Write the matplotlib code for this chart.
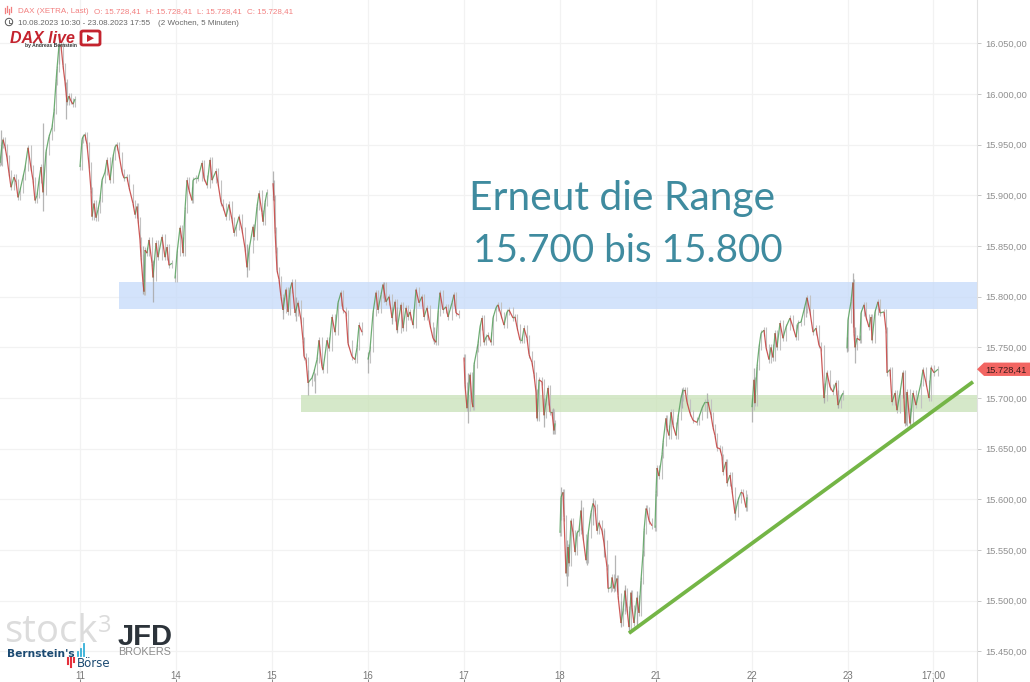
import matplotlib
matplotlib.use("Agg")
import matplotlib.pyplot as plt
from matplotlib.collections import LineCollection
from matplotlib.patches import Polygon, Rectangle, FancyBboxPatch
from matplotlib.lines import Line2D

# --- time axis: one session = 96 chart units ---
x_10 = [0,2,3,5,7,9,11,14,16,18,20,23,25,28,31,33,35,37,39,41,43,46,49,52,54,56,57,59,61,63,65,67,69,71,73,75]
p_10 = [15932,15950,15955,15948,15937,15922,15908,15918,15913,15898,15905,15918,15927,15947,15927,15915,15895,15900,15915,15928,15903,15943,15958,15967,15983,16012,16025,16048,16048,16028,16012,15992,15998,15993,15990,15995]
x_11 = [80,82,83,85,87,89,91,92,94,96,98,100,102,105,107,110,113,115,117,119,122,124,127,129,133,135,137,138,140,141,143,144,145,147,149,152,153,156,158,162,165,167,169,172]
p_11 = [15928,15955,15958,15960,15950,15930,15905,15879,15892,15878,15886,15896,15915,15923,15935,15915,15938,15948,15950,15940,15923,15917,15918,15908,15892,15881,15889,15876,15856,15839,15814,15805,15846,15843,15856,15833,15819,15853,15839,15859,15839,15849,15831,15833]
x_14 = [175,177,180,182,183,185,187,189,192,193,196,198,202,204,207,210,212,216,218,221,223,226,229,232,234,236,239,242,245,247,249,253,254,257,259,262,263,265,267]
p_14 = [15818,15843,15868,15856,15843,15886,15915,15905,15895,15915,15917,15917,15932,15917,15910,15935,15915,15924,15912,15893,15889,15879,15891,15876,15863,15869,15879,15866,15848,15829,15846,15869,15859,15889,15902,15883,15874,15893,15903]
x_15 = [273,274,275,276,277,279,281,283,286,288,290,292,295,298,301,303,304,306,308,312,314,317,319,322,323,327,329,332,335,338,341,343,346,348,352,355,357,359,362]
p_15 = [15912,15897,15866,15846,15826,15817,15800,15787,15807,15785,15807,15814,15784,15794,15777,15757,15741,15738,15715,15720,15726,15738,15757,15731,15728,15757,15749,15780,15765,15794,15804,15787,15784,15754,15741,15738,15750,15772,15765]
x_16 = [368,370,373,376,378,381,383,386,389,392,395,397,401,403,406,408,410,413,416,419,422,424,427,430,433,436,438,440,443,446,448,452,454,456,459]
p_16 = [15738,15748,15784,15804,15787,15802,15812,15795,15800,15779,15795,15767,15792,15769,15789,15780,15785,15772,15807,15794,15800,15780,15789,15772,15759,15755,15784,15804,15787,15790,15780,15794,15802,15784,15782]
x_17 = [464,465,467,470,472,473,474,477,478,480,482,484,486,488,491,493,496,498,501,504,507,509,513,515,517,520,522,524,527,529,532,534,536,537,539,542,544,546,548,550,552,554,555]
p_17 = [15740,15713,15690,15723,15696,15691,15733,15748,15754,15770,15779,15755,15760,15762,15755,15779,15789,15792,15782,15772,15785,15787,15779,15780,15770,15757,15757,15769,15759,15743,15735,15723,15706,15680,15718,15716,15683,15696,15710,15686,15686,15668,15675]
x_18 = [560,561,563,564,566,568,569,571,573,575,577,579,581,583,586,588,591,593,595,597,599,602,604,607,608,611,612,614,617,618,621,623,625,627,629,631,632,634,637,639,641,643,644,646,647,649,652]
p_18 = [15567,15602,15607,15582,15527,15553,15537,15579,15567,15548,15567,15569,15589,15563,15540,15565,15587,15596,15592,15569,15577,15569,15557,15533,15512,15513,15523,15512,15522,15505,15478,15490,15510,15492,15474,15508,15493,15478,15503,15488,15520,15547,15569,15591,15589,15579,15574]
x_21 = [655,656,657,659,662,663,666,667,669,671,673,676,678,681,683,685,687,690,693,697,699,702,705,708,711,713,715,717,720,722,723,726,727,730,732,735,738,741,743,746,747]
p_21 = [15572,15606,15631,15623,15644,15656,15680,15670,15663,15686,15673,15663,15681,15700,15708,15708,15696,15685,15678,15676,15681,15690,15696,15696,15683,15671,15663,15651,15650,15642,15627,15637,15616,15624,15609,15586,15599,15607,15606,15592,15602]
x_22 = [752,754,755,757,759,761,764,766,769,771,773,775,777,780,783,786,790,793,796,798,801,804,807,810,813,816,819,821,824,827,830,833,836,838,841,843]
p_22 = [15691,15718,15695,15731,15750,15764,15767,15750,15738,15750,15740,15764,15750,15774,15759,15770,15779,15770,15760,15774,15775,15787,15799,15785,15765,15769,15752,15749,15700,15725,15711,15706,15715,15693,15701,15705]
x_23 = [847,848,851,853,854,855,857,860,861,864,866,869,871,872,875,878,880,884,886,887,890,892,895,897,900,903,905,907,910,913,916,921,923,926,929,931,934,938]
p_23 = [15749,15777,15795,15814,15764,15750,15759,15757,15784,15792,15780,15770,15780,15757,15785,15795,15784,15785,15767,15725,15728,15696,15705,15688,15705,15725,15675,15706,15675,15705,15693,15715,15728,15715,15700,15730,15725,15728.41]
sessions_x = [x_10, x_11, x_14, x_15, x_16, x_17, x_18, x_21, x_22, x_23]
sessions_p = [p_10, p_11, p_14, p_15, p_16, p_17, p_18, p_21, p_22, p_23]

# notable wicks
wick_x  = [1,43,59,66,143,153,247,273,283,296,308,315,368,392,397,384,434,468,537,544,553,561,567,581,587,593,604,615,621,625,629,637,682,707,735,752,754,806,824,838,847,853,855,903,906,910]
wick_hi = [15965,15971,16060,16012,15850,15835,15852,15924,15800,15800,15728,15725,15745,15790,15790,15815,15770,15725,15700,15700,15690,15612,15560,15599,15560,15601,15570,15545,15500,15516,15490,15510,15710,15705,15600,15700,15730,15800,15715,15708,15760,15823,15770,15726,15705,15690]
wick_lo = [15930,15885,16030,15975,15803,15795,15819,15895,15778,15776,15703,15705,15725,15773,15765,15795,15753,15675,15678,15671,15665,15580,15515,15570,15535,15575,15543,15510,15474,15490,15468,15473,15690,15680,15580,15676,15695,15780,15695,15690,15745,15770,15735,15700,15673,15672]

y_ticks = [15450,15500,15550,15600,15650,15700,15750,15800,15850,15900,15950,16000,16050]
y_labels = ["15.450,00","15.500,00","15.550,00","15.600,00","15.650,00","15.700,00","15.750,00","15.800,00","15.850,00","15.900,00","15.950,00","16.000,00","16.050,00"]
x_ticks = [80,176,272,368,464,560,656,752,848,933]
x_labels = ["11","14","15","16","17","18","21","22","23","17:00"]

range_top = [15814.5, 15787.5]
range_bottom = [15703, 15686.5]
trend_x = [629, 973]
trend_p = [15468, 15716]
last_price = 15728.41
last_label = "15.728,41"

W, H = 1030, 682
SANS = "Liberation Sans"
fig = plt.figure(figsize=(W/100, H/100), dpi=100, facecolor="white")
ax = fig.add_axes([0, 0, 977/W, 1], facecolor="white")
ax.set_xlim(0, 977)
ax.set_ylim(15419.8, 16092.8)

for s in ["top", "left", "bottom"]:
    ax.spines[s].set_visible(False)
ax.spines["right"].set_color("#e2e2e2")
ax.spines["right"].set_linewidth(0.8)
ax.yaxis.tick_right()
ax.set_yticks(y_ticks, y_labels, fontsize=6.7, color="#8f8f8f", family=SANS)
ax.set_xticks(x_ticks, x_labels, fontsize=6.9, color="#777777", family=SANS)
ax.tick_params(axis="y", length=3, color="#c8c8c8", width=0.7, pad=2.9)
ax.tick_params(axis="x", direction="in", length=2.5, color="#888888", width=0.7, pad=-8)
ax.grid(True, color="#f2f2f2", linewidth=0.9)
ax.set_axisbelow(True)

wicks, ups, downs = [], [], []
for xs, ps in zip(sessions_x, sessions_p):
    for i, (x, p) in enumerate(zip(xs, ps)):
        o = ps[i-1] if i else p
        x0 = xs[i-1] if i else x
        lo, hi = min(o, p), max(o, p)
        wicks.append([(x, lo-3), (x, hi+3)])
        (ups if p >= o else downs).append([(x0, o), (x, p)])
ax.add_collection(LineCollection(wicks, colors="#c2c2c2", linewidths=0.8, zorder=3))
for wx, hi, lo in zip(wick_x, wick_hi, wick_lo):
    ax.plot([wx, wx], [lo, hi], color="#a8a8a8", lw=0.9, alpha=0.85, zorder=3, solid_capstyle="butt")
ax.add_collection(LineCollection(ups, colors="#559f5b", linewidths=0.9, alpha=0.85, zorder=4))
ax.add_collection(LineCollection(downs, colors="#c43c3a", linewidths=0.9, alpha=0.85, zorder=4))

# ranges and trend
ax.axhspan(range_top[1], range_top[0], xmin=119/977, xmax=1, color="#c5dafa", alpha=0.75, lw=0, zorder=2)
ax.axhspan(range_bottom[1], range_bottom[0], xmin=301/977, xmax=1, color="#c6e0b4", alpha=0.72, lw=0, zorder=2)
ax.plot(trend_x, trend_p, color="#74b546", lw=2.7, zorder=6, solid_capstyle="butt")

# last-price tag
yt = ax.get_yaxis_transform()
dy = 6.6
tag = Polygon([(1.0, last_price), (1.0072, last_price+dy), (1.0545, last_price+dy),
               (1.0545, last_price-dy), (1.0072, last_price-dy)],
              closed=True, transform=yt, facecolor="#f26562", edgecolor="none", clip_on=False, zorder=7)
ax.add_patch(tag)
ax.text(1.0292, last_price-0.8, last_label, transform=yt, ha="center", va="center",
        fontsize=6.7, color="#3a1c1c", family=SANS, zorder=8, clip_on=False)

def fx(x): return x / W
def fy(y): return 1 - y / H
def ftext(x, y, s, **kw):
    kw.setdefault("va", "baseline")
    return fig.text(fx(x), fy(y), s, **kw)

# annotation
TEAL = "#3f8b9f"
ftext(469, 210, "Erneut die Range", fontsize=29.3, color=TEAL, family="Lato")
ftext(473, 262, "15.700 bis 15.800", fontsize=27.8, color=TEAL, family="Lato")

# header
HS = 5.8
ftext(18, 13, "DAX (XETRA, Last)", fontsize=HS, color="#f27f7f", family=SANS)
ftext(94, 13, "O: 15.728,41", fontsize=HS, color="#f27f7f", family=SANS)
ftext(146, 13, "H: 15.728,41", fontsize=HS, color="#f27f7f", family=SANS)
ftext(197, 13, "L: 15.728,41", fontsize=HS, color="#f27f7f", family=SANS)
ftext(247, 13, "C: 15.728,41", fontsize=HS, color="#f27f7f", family=SANS)
ftext(18, 25, "10.08.2023 10:30 - 23.08.2023 17:55", fontsize=HS, color="#666666", family=SANS)
ftext(158, 25, "(2 Wochen, 5 Minuten)", fontsize=HS, color="#666666", family=SANS)

def fig_line(xs, ys, **kw):
    fig.add_artist(Line2D([fx(x) for x in xs], [fy(y) for y in ys], transform=fig.transFigure, **kw))
# header icons
for hx, hy0, hy1 in [(5, 8, 13), (7, 6, 12), (9, 9, 14), (11, 7, 12)]:
    fig_line([hx, hx], [hy0, hy1], color="#f27f7f", lw=0.9)
clock = plt.Circle((9, H-22), 3.7, transform=None, fill=False, ec="#555555", lw=0.7)
fig.add_artist(clock)
fig_line([9, 9, 11], [20, 22.5, 22.5], color="#555555", lw=0.6)

# DAX live logo
ftext(10, 43, "DAX live", fontsize=11.5, color="#c4232e", family=SANS, weight="bold", style="italic")
ftext(25, 46.5, "by Andreas Bernstein", fontsize=3.6, color="#333333", family=SANS, weight="bold")
fig.add_artist(FancyBboxPatch((fx(81), fy(45)), 19/W, 14/H, boxstyle="round,pad=0,rounding_size=0.002",
                              transform=fig.transFigure, fill=False, ec="#c4232e", lw=2))
fig.add_artist(Polygon([(fx(87), fy(34.5)), (fx(87), fy(42)), (fx(94), fy(38.2))], transform=fig.transFigure, fc="#c4232e", ec="none"))

# lower-left logos
ftext(4, 642, "stock", fontsize=27.5, color="#dcdcdc", family="Open Sans", weight="medium")
ftext(98, 632, "3", fontsize=17, color="#dcdcdc", family="Open Sans", weight="medium")
ftext(118, 645, "JFD", fontsize=21, color="#2c333a", family=SANS, weight="bold")
ftext(118, 655, "BROKERS", fontsize=7.8, color="#8c8c8c", family=SANS)
ftext(7, 657, "Bernstein's", fontsize=7.7, color="#1b4a72", family="DejaVu Sans", weight="bold")
ftext(77, 667, "Börse", fontsize=8.5, color="#1b4a72", family="DejaVu Sans")
for bx, y0, y1 in [(78, 652, 656), (81, 649, 656), (84, 644, 656)]:
    fig_line([bx, bx], [y0, y1], color="#35b0d8", lw=1.3)
for bx, y0, y1 in [(68, 658, 664), (71, 658, 667), (74, 658, 662)]:
    fig_line([bx, bx], [y0, y1], color="#e5303c", lw=1.5)

fig.savefig("out.png", dpi=100)
